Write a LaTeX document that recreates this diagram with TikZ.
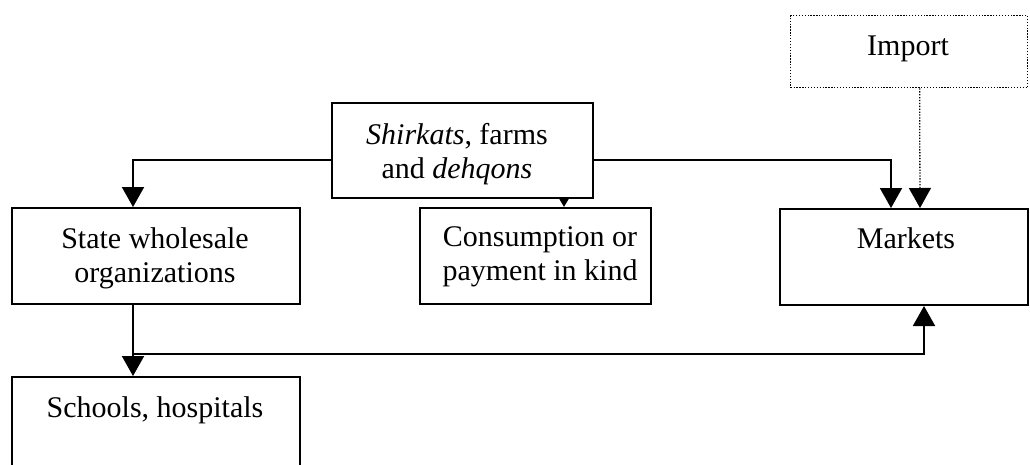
\documentclass[tikz,border=0pt]{standalone}
\usepackage{fontspec}
\setmainfont{Liberation Serif}
\usetikzlibrary{arrows.meta}
\usetikzlibrary{positioning}

\tikzset{
	blok/.style={draw, line width=2pt, anchor=north west, inner sep=0pt},
	txt/.style={font=\fontsize{30}{34.5}\selectfont, inner sep=0pt, align=center},
	arr/.style={line width=2pt, -{Triangle[length=20pt,width=22pt]}},
	arrsmall/.style={line width=2pt, -{Triangle[length=9pt,width=10pt]}},
	dots/.style={line width=1.3pt, dash pattern=on 1.3pt off 1.6pt}
}

\begin{document}
\begin{tikzpicture}[x=1pt,y=-1pt]
	\useasboundingbox (0,0) rectangle (1030,464);
	% boxes
	\node[blok, dots, minimum width=237pt, minimum height=72pt] (import) at (790,15) {};
	\node[blok, minimum width=261pt, minimum height=95pt] (shirkats) at (331,102) {};
	\node[blok, minimum width=288pt, minimum height=96pt] (state) at (11,207) {};
	\node[blok, minimum width=231pt, minimum height=96pt] (consump) at (419,207) {};
	\node[blok, minimum width=248pt, minimum height=96pt] (markets) at (779,208) {};
	\node[blok, minimum width=288pt, minimum height=100pt] (schools) at (11,376) {};
	% texts
	\node[txt, anchor=base] (importtxt) at (908,55) {Import};
	\node[txt, anchor=north] (shirkatstxt) at (457,123) {\textit{Shirkats}, farms\\and \textit{dehqons}};
	\node[txt, anchor=north] (statetxt) at (155,227) {State wholesale\\organizations};
	\node[txt, anchor=north] (consumptxt) at (540,226) {Consumption or\\payment in kind};
	\node[txt, anchor=base] (marketstxt) at (906,248) {Markets};
	\node[txt, anchor=base] (schoolstxt) at (155,417) {Schools, hospitals};
	% connectors
	\draw[arr] ([yshift=-9.5pt]shirkats.west) -| ([xshift=-23pt]state.north);
	\draw[arr] ([yshift=-9.5pt]shirkats.east) -| ([xshift=-13pt]markets.north);
	\draw[arrsmall] ([xshift=101.5pt]shirkats.south) -- ([xshift=28.5pt]consump.north);
	\draw[arr, dots] ([xshift=10.5pt]import.south) -- ([xshift=16pt]markets.north);
	\draw[arr] ([xshift=-23pt]state.south) -- ([xshift=-23pt]schools.north);
	\draw[arr] ([xshift=-23pt,yshift=-49pt]state.south) -| ([xshift=20pt]markets.south);
\end{tikzpicture}
\end{document}
